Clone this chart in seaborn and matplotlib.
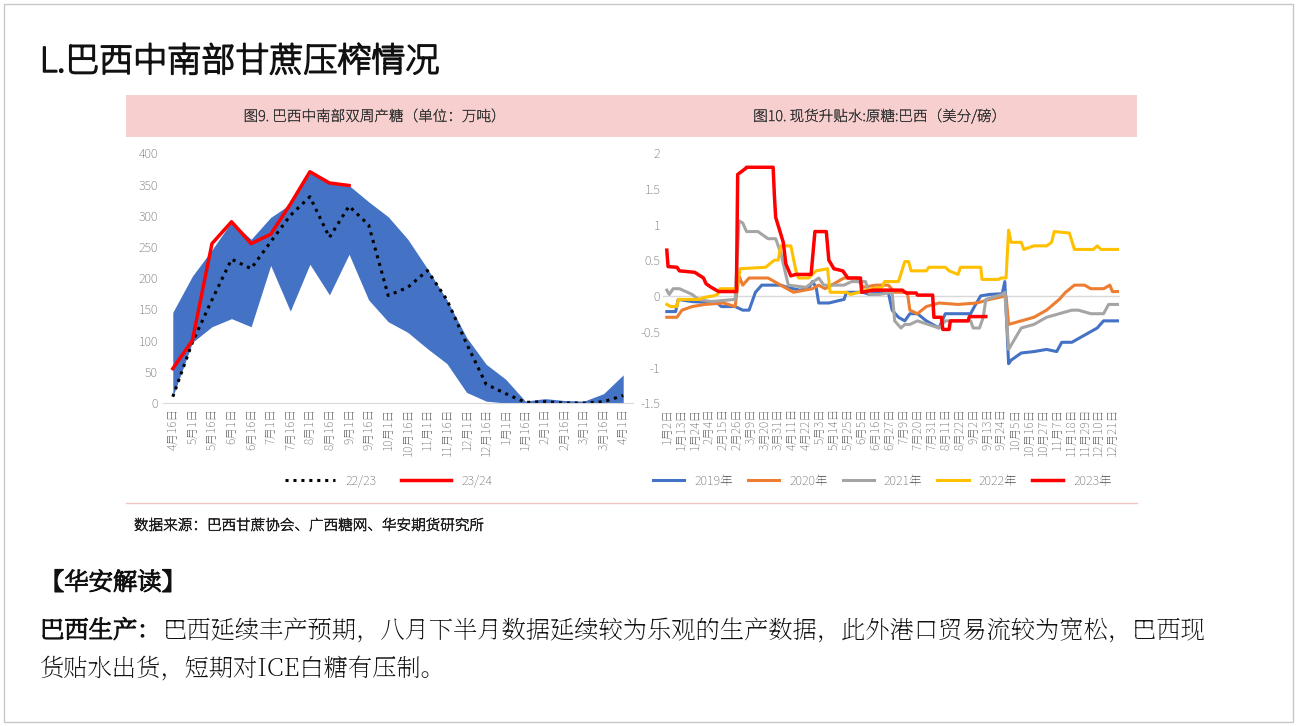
import numpy as np
import pandas as pd
import matplotlib
matplotlib.use("Agg")
import matplotlib.pyplot as plt
import matplotlib.patheffects as pe
import seaborn as sns
from matplotlib import font_manager as fm

_avail = {f.name for f in fm.fontManager.ttflist}
SANS = [n for n in ["Noto Sans CJK SC", "Noto Sans SC", "Noto Sans CJK JP", "Noto Serif SC", "DejaVu Sans"] if n in _avail]
SERIF = [n for n in ["Noto Serif SC", "Noto Serif CJK SC"] if n in _avail] + SANS
plt.rcParams["font.family"] = SANS
BOLD = [pe.withStroke(linewidth=0.9, foreground="#111")]

# ---- left chart data (万吨) ----
periods = ["4月16日","5月1日","5月16日","6月1日","6月16日","7月1日","7月16日","8月1日","8月16日",
           "9月1日","9月16日","10月1日","10月16日","11月1日","11月16日","12月1日","12月16日","1月1日",
           "1月16日","2月1日","2月16日","3月1日","3月16日","4月1日"]
band_upper = [145,203,245,290,262,297,318,368,352,348,322,298,262,215,165,105,62,38,3,7,4,3,15,45]
band_lower = [10,97,122,135,122,220,147,222,173,238,165,130,113,87,63,17,3,0,0,0,0,0,0,0]
s2223 = [10,97,165,230,215,258,300,330,265,315,285,172,185,212,165,95,30,15,1,2,0,0,2,12]
s2324 = [55,100,255,290,255,270,318,370,352,348]

# ---- right chart data (美分/磅), x = days since 1月2日 ----
d2019 = [0,7,9,20,40,43,54,60,65,70,75,90,95,105,112,115,118,120,128,135,140,142,155,160,165,175,178,183,188,192,198,205,215,220,240,243,248,255,265,267,270,272,280,290,300,308,312,320,330,340,345,356]
v2019 = [-0.22,-0.22,-0.05,-0.08,-0.1,-0.15,-0.15,-0.2,-0.2,0.05,0.15,0.15,0.12,0.08,0.1,0.2,0.12,-0.1,-0.1,-0.07,-0.05,0.05,0.05,0.02,0.05,0.05,-0.2,-0.3,-0.35,-0.25,-0.25,-0.35,-0.45,-0.25,-0.25,-0.15,0.0,0.02,0.03,0.2,-0.95,-0.9,-0.8,-0.78,-0.75,-0.78,-0.65,-0.65,-0.55,-0.45,-0.35,-0.35]
d2020 = [0,8,12,20,30,45,54,57,60,65,80,90,100,115,120,125,135,140,150,155,165,175,180,190,192,198,205,215,230,245,255,268,270,280,290,300,310,315,322,330,335,345,350,352,356]
v2020 = [-0.3,-0.3,-0.2,-0.15,-0.12,-0.1,-0.15,0.28,0.15,0.25,0.25,0.15,0.05,0.1,0.15,0.1,0.2,0.25,0.25,0.12,0.15,0.15,0.05,0.05,-0.2,-0.25,-0.15,-0.1,-0.12,-0.1,-0.05,0.0,-0.4,-0.35,-0.3,-0.2,-0.05,0.05,0.15,0.15,0.1,0.1,0.15,0.06,0.06]
d2021 = [0,2,5,10,20,25,35,54,57,60,63,72,80,86,90,96,110,116,120,124,135,140,146,157,160,168,178,180,185,188,192,198,215,220,232,240,242,247,250,252,265,267,270,275,280,290,300,320,325,335,345,349,356]
v2021 = [0.08,0.02,0.1,0.1,0.02,-0.05,-0.08,-0.05,1.05,1.02,0.9,0.9,0.8,0.8,0.6,0.15,0.12,0.2,0.25,0.15,0.15,0.15,0.2,0.2,0.02,0.02,0.05,-0.35,-0.45,-0.4,-0.4,-0.35,-0.45,-0.35,-0.35,-0.35,-0.45,-0.45,-0.3,-0.05,0.02,0.05,-0.75,-0.6,-0.45,-0.4,-0.3,-0.2,-0.2,-0.25,-0.25,-0.12,-0.12]
d2022 = [0,3,8,9,25,30,37,40,42,55,58,78,85,88,90,98,102,104,112,118,127,129,142,145,152,162,170,172,183,188,191,193,205,207,220,223,230,232,248,249,262,264,268,270,272,280,282,290,300,304,306,318,322,337,340,343,356]
v2022 = [-0.12,-0.15,-0.15,-0.05,-0.05,-0.02,0,0.02,0.1,0.1,0.38,0.4,0.5,0.5,0.7,0.7,0.35,0.25,0.25,0.35,0.38,0.05,0.05,0.02,0.05,0.1,0.12,0.2,0.2,0.48,0.48,0.35,0.35,0.4,0.4,0.35,0.3,0.4,0.4,0.23,0.23,0.25,0.25,0.92,0.75,0.75,0.65,0.7,0.7,0.75,0.9,0.88,0.65,0.65,0.7,0.65,0.65]
d2023 = [0,1,8,10,22,29,31,35,41,55,56,62,63,84,85,86,92,94,98,102,114,117,126,128,132,139,143,153,154,163,186,189,197,198,210,211,217,218,223,224,238,239,252]
v2023 = [0.64,0.41,0.4,0.35,0.33,0.25,0.17,0.12,0.06,0.06,1.7,1.78,1.8,1.8,1.4,1.1,0.75,0.45,0.28,0.3,0.3,0.9,0.9,0.5,0.38,0.35,0.25,0.25,0.05,0.08,0.08,0.04,0.04,0.01,0.01,-0.3,-0.3,-0.47,-0.47,-0.35,-0.35,-0.29,-0.29]
tick_dates = ["1月2日","1月13日","1月24日","2月4日","2月15日","2月26日","3月9日","3月20日","3月31日","4月11日",
              "4月22日","5月3日","5月14日","5月25日","6月5日","6月16日","6月27日","7月9日","7月20日","7月31日",
              "8月11日","8月22日","9月2日","9月13日","9月24日","10月5日","10月16日","10月27日","11月7日",
              "11月18日","11月29日","12月10日","12月21日"]

W, H = 1297, 726
fig = plt.figure(figsize=(W/100, H/100), dpi=100)
fig.patch.set_facecolor("white")

def fx(p): return p / W
def fy(p): return 1 - p / H

fig.add_artist(plt.Rectangle((fx(4), fy(722)), fx(1289), 718/H, fill=False, ec="#c8c8c8", lw=1))
fig.text(fx(40), fy(62), "L.巴西中南部甘蔗压榨情况", fontsize=24.5, va="center", color="#111",
         path_effects=[pe.withStroke(linewidth=1.4, foreground="#111")])
fig.add_artist(plt.Rectangle((fx(126), fy(137)), fx(1011), 42/H, color="#f7cfcf", lw=0))
fig.text(fx(375), fy(117), "图9. 巴西中南部双周产糖（单位：万吨）", fontsize=10.5, ha="center", va="center", color="#333",
         path_effects=[pe.withStroke(linewidth=0.3, foreground="#333")])
fig.text(fx(880), fy(117), "图10. 现货升贴水:原糖:巴西（美分/磅）", fontsize=10.5, ha="center", va="center", color="#333",
         path_effects=[pe.withStroke(linewidth=0.3, foreground="#333")])
fig.add_artist(plt.Line2D([fx(126), fx(1137)], [fy(503), fy(503)], color="#f2c4c4", lw=1))
fig.text(fx(134), fy(526), "数据来源：巴西甘蔗协会、广西糖网、华安期货研究所", fontsize=10.5, va="center",
         color="#222", path_effects=[pe.withStroke(linewidth=0.5, foreground="#222")])
fig.text(fx(40), fy(583), "【华安解读】", fontsize=17.5, va="center", color="#111", family=SERIF, path_effects=BOLD)
fig.text(fx(40), fy(631), "巴西生产：", fontsize=17.5, va="center", color="#111", family=SERIF, path_effects=BOLD)
fig.text(fx(163), fy(631), "巴西延续丰产预期，八月下半月数据延续较为乐观的生产数据，此外港口贸易流较为宽松，巴西现",
         fontsize=17.5, va="center", color="#111", family=SERIF)
fig.text(fx(40), fy(670), "货贴水出货，短期对ICE白糖有压制。", fontsize=17.5, va="center", color="#111", family=SERIF)

# ---- left chart ----
axL = fig.add_axes([fx(163), fy(403), fx(470), 250/H])
xi = np.arange(len(periods))
axL.fill_between(xi, band_lower, band_upper, color="#4472c4", lw=0)
df1 = pd.DataFrame({"x": xi, "y": s2223})
sns.lineplot(data=df1, x="x", y="y", ax=axL, color="black", lw=2.2, linestyle=(0, (1, 1.6)), label="22/23")
df2 = pd.DataFrame({"x": xi[:len(s2324)], "y": s2324})
sns.lineplot(data=df2, x="x", y="y", ax=axL, color="#ff0000", lw=2.5, label="23/24")
axL.set_xlim(-0.5, len(periods) - 0.5)
axL.set_ylim(0, 400)
axL.set_yticks(range(0, 401, 50))
axL.set_xticks(xi)
axL.set_xticklabels(periods, rotation=90, fontsize=8.5, color="#666")
axL.tick_params(axis="y", labelsize=9, colors="#666", length=0)
axL.tick_params(axis="x", length=0)
axL.set_xlabel(""); axL.set_ylabel("")
for s in ["top", "right", "left"]:
    axL.spines[s].set_visible(False)
axL.spines["bottom"].set_color("#d9d9d9")
axL.legend(loc="upper center", bbox_to_anchor=(0.48, -0.24), ncol=2, frameon=False, fontsize=9,
           labelcolor="#666", handlelength=4)

# ---- right chart ----
axR = fig.add_axes([fx(663), fy(403), fx(457), 250/H])
series = [("2019年", d2019, v2019, "#4472c4"), ("2020年", d2020, v2020, "#ed7d31"),
          ("2021年", d2021, v2021, "#a5a5a5"), ("2022年", d2022, v2022, "#ffc000"),
          ("2023年", d2023, v2023, "#ff0000")]
axR.axhline(0, color="#d9d9d9", lw=1)
for name, d, v, c in series:
    sns.lineplot(x=d, y=v, ax=axR, color=c, lw=2.2 if name != "2023年" else 2.5, label=name, sort=False)
axR.set_xlim(-3, 358)
axR.set_ylim(-1.5, 2)
axR.set_yticks([-1.5, -1, -0.5, 0, 0.5, 1, 1.5, 2])
axR.set_yticklabels(["-1.5", "-1", "-0.5", "0", "0.5", "1", "1.5", "2"])
axR.set_xticks(np.arange(len(tick_dates)) * 11)
axR.set_xticklabels(tick_dates, rotation=90, fontsize=8.5, color="#666")
axR.tick_params(axis="y", labelsize=9, colors="#666", length=0, pad=2)
axR.tick_params(axis="x", length=0)
for s in axR.spines.values():
    s.set_visible(False)
axR.legend(loc="upper center", bbox_to_anchor=(0.48, -0.24), ncol=5, frameon=False, fontsize=9,
           labelcolor="#666", handlelength=2.5, columnspacing=1.2)

fig.savefig("out.png", dpi=100)
